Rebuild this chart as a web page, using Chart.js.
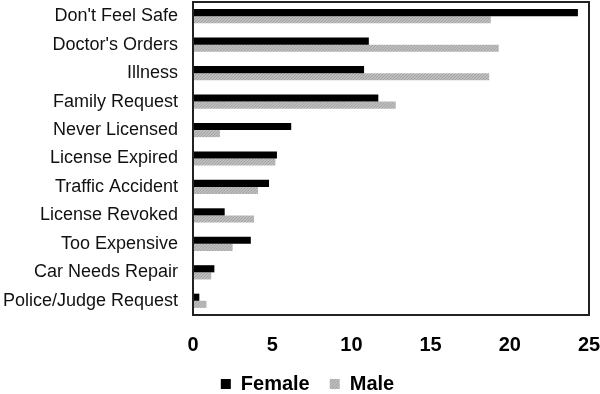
<!DOCTYPE html>
<html>
<head>
<meta charset="utf-8">
<script src="https://cdn.jsdelivr.net/npm/chart.js@4/dist/chart.umd.min.js"></script>
<style>
html,body{margin:0;padding:0;background:#fff;}
#wrap{width:600px;height:394px;position:relative;}
</style>
</head>
<body>
<div id="wrap"><canvas id="c" width="600" height="394"></canvas></div>
<script>
const categories = ["Don't Feel Safe","Doctor's Orders","Illness","Family Request","Never Licensed","License Expired","Traffic Accident","License Revoked","Too Expensive","Car Needs Repair","Police/Judge Request"];
const femaleValues = [24.3, 11.1, 10.8, 11.7, 6.2, 5.3, 4.8, 2.0, 3.65, 1.35, 0.4];
const maleValues   = [18.8, 19.3, 18.7, 12.8, 1.7, 5.2, 4.1, 3.85, 2.5, 1.15, 0.85];
const xTicks = [0, 5, 10, 15, 20, 25];

// dotted light-gray fill like the reference
const pc = document.createElement('canvas');
pc.width = 3; pc.height = 3;
const pctx = pc.getContext('2d');
pctx.fillStyle = '#bdbdbd'; pctx.fillRect(0, 0, 3, 3);
pctx.fillStyle = '#a4a4a4'; pctx.fillRect(0, 0, 1, 1); pctx.fillRect(2, 1, 1, 1); pctx.fillRect(1, 2, 1, 1);
const grayFill = pctx.createPattern(pc, 'repeat');

const boxPlugin = {
  id: 'boxPlugin',
  beforeLayout(chart) {
    const lg = chart.legend;
    if (lg && !lg._patched) {
      const f = lg.fit.bind(lg);
      lg.fit = function () { f(); this.height = 40; };
      lg._patched = true;
    }
  },
  afterLayout(chart) {
    const lg = chart.legend;
    if (lg) { lg.left += 13; lg.right += 13; }
  },
  afterDatasetsDraw(chart) {
    const a = chart.chartArea, ctx = chart.ctx;
    ctx.save();
    ctx.strokeStyle = '#222';
    ctx.lineWidth = 2;
    ctx.strokeRect(a.left, a.top, a.right - a.left, a.bottom - a.top);
    ctx.restore();
  }
};

new Chart(document.getElementById('c'), {
  type: 'bar',
  data: {
    labels: categories,
    datasets: [
      { label: 'Female', data: femaleValues, backgroundColor: '#000000', categoryPercentage: 0.5, barPercentage: 1.0 },
      { label: 'Male', data: maleValues, backgroundColor: grayFill, categoryPercentage: 0.5, barPercentage: 1.0 }
    ]
  },
  options: {
    indexAxis: 'y',
    responsive: false,
    animation: false,
    layout: { padding: { left: 0, top: 2, right: 11, bottom: 0 } },
    plugins: {
      legend: {
        position: 'bottom',
        labels: {
          boxWidth: 10, boxHeight: 10, padding: 20,
          color: '#000',
          font: { family: 'Liberation Sans', size: 20, weight: 'bold' }
        }
      },
      tooltip: { enabled: false }
    },
    scales: {
      x: {
        min: 0, max: 25,
        afterBuildTicks(axis) { axis.ticks = xTicks.map(v => ({ value: v })); },
        grid: { display: false, drawTicks: false },
        border: { display: false },
        ticks: { padding: 18, color: '#000', font: { family: 'Liberation Sans', size: 20, weight: 'bold' } },
        afterFit(axis) { axis.height = 39; axis.paddingLeft = 0; axis.paddingRight = 0; }
      },
      y: {
        grid: { display: false, drawTicks: false },
        border: { display: false },
        ticks: { padding: 15, color: '#111', font: { family: 'Liberation Sans', size: 18 } },
        afterFit(axis) { axis.width = 193; axis.paddingTop = 0; axis.paddingBottom = 0; }
      }
    }
  },
  plugins: [boxPlugin]
});
</script>
</body>
</html>
